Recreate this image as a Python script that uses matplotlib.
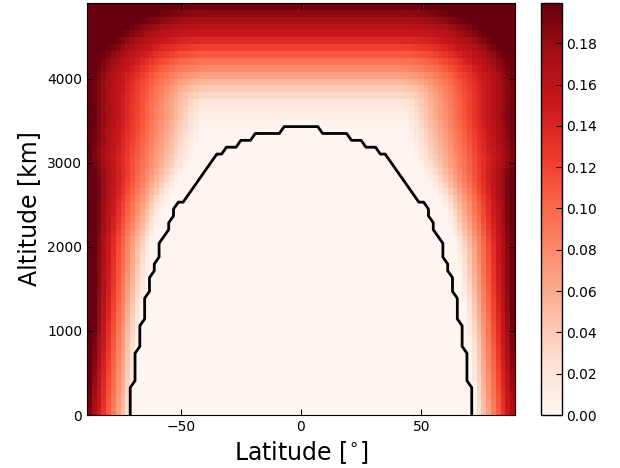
import numpy as np
import matplotlib
matplotlib.use("Agg")
import matplotlib.pyplot as plt
from matplotlib.colors import Normalize

# ---- model grid ----
lat = np.arange(-89, 90, 2)                 # grid points, degrees
alt = np.linspace(0, 4900, 61)              # grid points, km

# ---- zero region: highest altitude still at zero, per |latitude| ----
dome_lat = [1, 3, 5, 7, 9, 11, 13, 15, 17, 19, 21, 23, 25, 27, 29, 31, 33, 35,
            37, 39, 41, 43, 45, 47, 49, 51, 53, 55, 57, 59, 61, 63, 65, 67, 69, 71]
dome_alt = [3430, 3430, 3430, 3430, 3348, 3348, 3348, 3348, 3348, 3348,
            3267, 3267, 3267, 3185, 3185, 3185, 3103, 3103, 3022, 2940,
            2858, 2777, 2695, 2613, 2532, 2532, 2450, 2287, 2123, 2042,
            1797, 1633, 1388, 1062, 735, 327]

# ---- value over the equator, per altitude row (rows from 3348 km upward) ----
top_val = [0.000, 0.004, 0.008, 0.013, 0.020, 0.030, 0.040, 0.053, 0.067, 0.081,
           0.095, 0.109, 0.123, 0.137, 0.150, 0.161, 0.172, 0.184, 0.195, 0.200]

# ---- poleward ramp: latitude where it starts and slope per degree ----
ramp_alt   = [0, 1000, 2000, 2500, 3000, 3500, 4000, 4900]
ramp_start = [70.5, 68.0, 63.0, 57.0, 46.5, 41.0, 38.0, 35.0]
ramp_slope = [0.0103, 0.0104, 0.0084, 0.0068, 0.0047, 0.0043, 0.0039, 0.0038]

contour_level = 1e-9
vmin, vmax = 0.0, 0.1995
cbar_ticks = [0.00, 0.02, 0.04, 0.06, 0.08, 0.10, 0.12, 0.14, 0.16, 0.18]

LAT, ALT = np.meshgrid(lat, alt)
alat = np.abs(LAT)
v_top = np.zeros_like(ALT)
v_top[alt.size - len(top_val):, :] = np.array(top_val)[:, None]
start = np.interp(ALT, ramp_alt, ramp_start)
slope = np.interp(ALT, ramp_alt, ramp_slope)
v_side = np.clip(slope * (alat - start), 0, None)
q = 2.5
Z = (v_top ** q + v_side ** q) ** (1.0 / q)
Z = np.maximum(Z, 1e-5)
dome_h = np.interp(alat, dome_lat, dome_alt)
dome_h[alat > max(dome_lat)] = -np.inf
Z[ALT <= dome_h + 1.0] = 0.0

plt.rcParams['font.family'] = ['DejaVu Sans']
plt.rcParams['mathtext.fontset'] = 'dejavusans'

fig = plt.figure(figsize=(6.2, 4.68), dpi=100)
ax = fig.add_axes([0.1402, 0.1132, 0.6905, 0.8804])
cax = fig.add_axes([0.872, 0.1132, 0.0339, 0.8804])

mesh = ax.pcolormesh(lat, alt, Z[:-1, :-1], cmap='Reds',
                     norm=Normalize(vmin=vmin, vmax=vmax), shading='flat')
ax.contour(lat, alt, Z, levels=[contour_level], colors='k', linewidths=2)

ax.set_xlim(lat[0], lat[-1])
ax.set_ylim(alt[0], alt[-1])
ax.set_xticks([-50, 0, 50])
ax.set_yticks([0, 1000, 2000, 3000, 4000])
ax.tick_params(direction='in', top=True, right=True, length=4, labelsize=10)
ax.set_xlabel(r'Latitude [$^{\circ}$]', fontsize=17)
ax.set_ylabel('Altitude [km]', fontsize=17)

cb = fig.colorbar(mesh, cax=cax, ticks=cbar_ticks, format='%.2f')
cb.ax.tick_params(direction='in', length=4, labelsize=10)
cb.outline.set_linewidth(1)

fig.savefig('out.png', dpi=100)
